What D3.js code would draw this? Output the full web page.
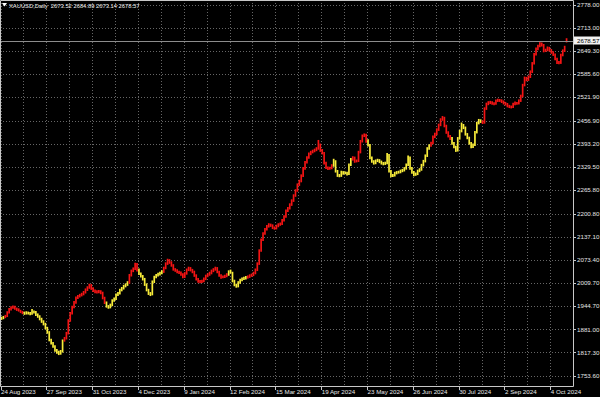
<!DOCTYPE html>
<html>
<head>
<meta charset="utf-8">
<script src="https://cdnjs.cloudflare.com/ajax/libs/d3/7.8.5/d3.min.js"></script>
<style>
  html, body { margin: 0; padding: 0; background: #000; }
  svg { display: block; }
  text { font-family: "Liberation Sans", Arial, sans-serif; }
</style>
</head>
<body>
<div id="chart"></div>
<script>
var symbol = 'XAUUSD,Daily';
var lastOHLC = [2673.52, 2684.89, 2673.14, 2678.57];

var priceTicks = [2778.00, 2713.00, 2649.30, 2585.60, 2521.90, 2456.90, 2393.20, 2329.50,
  2265.80, 2200.80, 2137.10, 2073.40, 2009.70, 1944.70, 1881.00, 1817.30, 1753.60];

// one label every 24 bars
var dateLabels = ['24 Aug 2023', '27 Sep 2023', '31 Oct 2023', '4 Dec 2023', '9 Jan 2024',
  '12 Feb 2024', '15 Mar 2024', '19 Apr 2024', '23 May 2024', '26 Jun 2024',
  '30 Jul 2024', '2 Sep 2024', '4 Oct 2024'];

var highs = [
  1916,1918,1921,1931,1940,1945,1947,1946,1941,1939,
  1935,1932,1930,1931,1930,1929,1937,1933,1932,1925,
  1920,1913,1906,1899,1888,1876,1855,1846,1837,1827,
  1822,1824,1853,1860,1874,1909,1929,1946,1959,1972,
  1976,1979,1982,1987,1994,2000,2007,2006,1997,1991,
  1989,1990,1989,1985,1971,1958,1948,1952,1964,1969,
  1980,1984,1993,1998,2004,2008,2014,2034,2046,2052,
  2065,2064,2049,2038,2031,2023,2008,1993,1984,2016,
  2029,2034,2037,2040,2044,2054,2066,2076,2075,2069,
  2061,2050,2047,2043,2041,2036,2039,2049,2054,2053,
  2048,2043,2033,2023,2017,2018,2024,2032,2036,2040,
  2046,2050,2054,2053,2043,2033,2030,2032,2036,2044,
  2046,2040,2018,2007,2014,2021,2024,2026,2028,2030,
  2033,2035,2040,2049,2066,2102,2132,2149,2161,2169,
  2174,2173,2171,2165,2170,2174,2176,2186,2196,2212,
  2219,2229,2240,2254,2268,2284,2294,2309,2329,2346,
  2359,2369,2374,2377,2380,2384,2404,2394,2379,2371,
  2344,2331,2330,2337,2352,2348,2321,2310,2319,2318,
  2317,2316,2339,2354,2359,2358,2350,2374,2404,2419,
  2422,2421,2406,2393,2358,2348,2350,2352,2351,2347,
  2343,2344,2368,2365,2321,2310,2316,2318,2319,2322,
  2324,2329,2339,2361,2358,2329,2318,2314,2322,2326,
  2338,2349,2364,2384,2392,2399,2416,2424,2436,2449,
  2464,2470,2468,2446,2428,2418,2412,2398,2388,2412,
  2432,2452,2448,2441,2423,2413,2398,2394,2429,2454,
  2462,2461,2458,2494,2507,2511,2512,2511,2508,2516,
  2518,2517,2516,2513,2509,2506,2501,2499,2507,2510,
  2509,2516,2529,2559,2579,2578,2582,2596,2619,2644,
  2659,2667,2674,2673,2669,2656,2662,2661,2655,2649,
  2643,2631,2622,2642,2654,2664,2684.89];

var lows = [
  1907,1909,1912,1915,1925,1933,1938,1935,1932,1930,
  1926,1923,1921,1922,1922,1920,1921,1925,1918,1913,
  1906,1899,1892,1881,1869,1848,1839,1830,1819,1814,
  1810,1811,1817,1847,1853,1867,1902,1922,1939,1952,
  1965,1969,1972,1975,1980,1987,1993,1990,1984,1981,
  1980,1981,1978,1964,1951,1941,1938,1939,1945,1957,
  1962,1973,1977,1986,1991,1997,2001,2007,2027,2039,
  2045,2041,2031,2024,2016,2001,1986,1976,1973,1975,
  2009,2022,2027,2030,2033,2037,2047,2059,2062,2054,
  2043,2040,2036,2034,2029,2022,2023,2032,2042,2041,
  2036,2026,2016,2010,2008,2009,2011,2017,2025,2029,
  2033,2039,2043,2036,2026,2021,2022,2023,2025,2029,
  2035,2011,2000,1996,1997,2007,2014,2017,2019,2021,
  2023,2026,2028,2033,2042,2059,2095,2125,2142,2154,
  2162,2164,2158,2156,2157,2163,2167,2169,2179,2189,
  2205,2212,2222,2233,2247,2261,2277,2287,2302,2322,
  2339,2352,2362,2367,2370,2373,2377,2371,2364,2336,
  2324,2321,2322,2323,2330,2314,2302,2301,2302,2308,
  2309,2306,2307,2332,2347,2341,2342,2343,2367,2397,
  2412,2396,2386,2351,2341,2336,2337,2343,2340,2336,
  2334,2335,2337,2314,2301,2302,2303,2309,2311,2312,
  2315,2317,2322,2332,2322,2311,2304,2305,2307,2315,
  2319,2331,2342,2357,2377,2385,2392,2409,2417,2429,
  2442,2457,2439,2421,2411,2404,2391,2381,2371,2372,
  2405,2425,2434,2416,2406,2391,2381,2382,2387,2422,
  2447,2451,2448,2449,2487,2500,2503,2501,2500,2501,
  2509,2509,2506,2502,2499,2494,2492,2491,2492,2500,
  2501,2502,2509,2522,2552,2566,2567,2575,2589,2612,
  2637,2652,2660,2662,2646,2647,2649,2648,2642,2636,
  2624,2614,2613,2614,2635,2647,2673.14];

// bar index ranges painted yellow, the rest are red
var yellowSpans = [[0, 1], [12, 32], [55, 66], [72, 84], [119, 128], [174, 183], [192, 224], [236, 251]];

var width = 600, height = 397,
    plotW = 573, plotH = 386;

var svg = d3.select('#chart').append('svg')
    .attr('width', width)
    .attr('height', height)
    .style('background', '#000');

var x = d3.scaleLinear()
        .domain([0, 288])
        .range([1.5, 551.3]),
    y = d3.scaleLinear()
        .domain([1753.6, 2778])
        .range([375.5, 4.5]),
    color = function(i) {
      var yellow = yellowSpans.some(function(s) { return i >= s[0] && i <= s[1]; });
      return yellow ? '#f8ec3a' : '#f41414';
    };

// dotted grid
svg.append('g').selectAll('line')
  .data(priceTicks)
    .enter().append('line')
  .attr('x1', 0).attr('x2', plotW)
  .attr('y1', function(d) { return Math.round(y(d)) + 0.5; })
  .attr('y2', function(d) { return Math.round(y(d)) + 0.5; })
  .attr('stroke', '#666')
  .attr('stroke-dasharray', '1,2');

svg.append('g').selectAll('line')
  .data(d3.range(0, highs.length, 12))
    .enter().append('line')
  .attr('x1', function(d) { return Math.round(x(d)) - 0.5; })
  .attr('x2', function(d) { return Math.round(x(d)) - 0.5; })
  .attr('y1', 0).attr('y2', plotH)
  .attr('stroke', '#666')
  .attr('stroke-dasharray', '1,2');

// the bars
svg.append('g').selectAll('line')
  .data(d3.range(highs.length))
    .enter().append('line')
  .attr('x1', function(i) { return x(i); })
  .attr('x2', function(i) { return x(i); })
  .attr('y1', function(i) { return y(highs[i]); })
  .attr('y2', function(i) { return y(lows[i]); })
  .attr('stroke', color)
  .attr('stroke-width', 1.7);

// bid line
svg.append('line')
  .attr('x1', 0).attr('x2', plotW)
  .attr('y1', Math.round(y(lastOHLC[3])) + 0.5)
  .attr('y2', Math.round(y(lastOHLC[3])) + 0.5)
  .attr('stroke', '#8c8c8c');

// frame
svg.append('path')
  .attr('d', 'M0.5,0.5H' + (plotW + 0.5) + 'V' + (plotH + 0.5) + 'H0.5Z')
  .attr('fill', 'none')
  .attr('stroke', '#c8c8c8');

// price axis
var py = svg.append('g');
py.selectAll('line')
  .data(priceTicks)
    .enter().append('line')
  .attr('x1', plotW).attr('x2', plotW + 3)
  .attr('y1', function(d) { return Math.round(y(d)) + 0.5; })
  .attr('y2', function(d) { return Math.round(y(d)) + 0.5; })
  .attr('stroke', '#c8c8c8');

py.selectAll('text')
  .data(priceTicks)
    .enter().append('text')
  .attr('x', plotW + 4)
  .attr('y', function(d) { return y(d); })
  .attr('dy', '0.35em')
  .attr('fill', '#e6e6e6')
  .style('font-size', '6.2px')
  .text(function(d) { return d.toFixed(2); });

var bidY = y(lastOHLC[3]);
svg.append('rect')
  .attr('x', plotW + 1).attr('y', bidY - 4)
  .attr('width', width - plotW - 1).attr('height', 8)
  .attr('fill', '#f2f2f2');
svg.append('text')
  .attr('x', plotW + 4).attr('y', bidY)
  .attr('dy', '0.35em')
  .attr('fill', '#000')
  .style('font-size', '6.2px')
  .text(lastOHLC[3].toFixed(2));

// date axis
var dx = svg.append('g');
dx.selectAll('line')
  .data(dateLabels)
    .enter().append('line')
  .attr('x1', function(d, i) { return Math.round(x(i * 24)) - 0.5; })
  .attr('x2', function(d, i) { return Math.round(x(i * 24)) - 0.5; })
  .attr('y1', plotH).attr('y2', plotH + 4)
  .attr('stroke', '#c8c8c8');

dx.selectAll('text')
  .data(dateLabels)
    .enter().append('text')
  .attr('x', function(d, i) { return x(i * 24) - 0.5; })
  .attr('y', 394)
  .attr('fill', '#e6e6e6')
  .style('font-size', '6.2px')
  .text(function(d) { return d; });

// header
svg.append('path')
  .attr('d', 'M2,3H7L4.5,6.5Z')
  .attr('fill', '#fff');
svg.append('text')
  .attr('x', 9).attr('y', 8)
  .attr('fill', '#f0f0f0')
  .style('font-size', '5.8px')
  .attr('xml:space', 'preserve')
  .text(symbol + '  ' + lastOHLC.map(function(d) { return d.toFixed(2); }).join(' '));
</script>
</body>
</html>
